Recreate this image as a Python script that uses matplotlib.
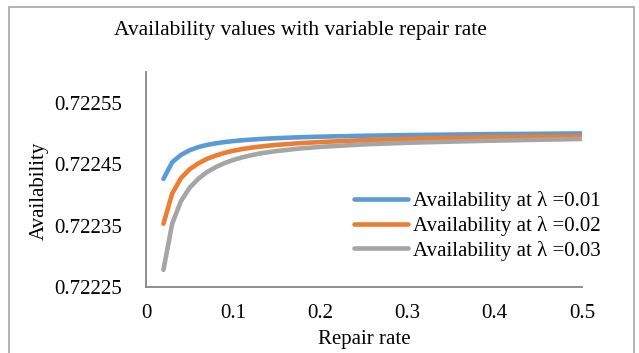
import matplotlib
matplotlib.use("Agg")
import matplotlib.pyplot as plt
from matplotlib.patches import Rectangle

plt.rcParams['font.family'] = ['Liberation Serif', 'DejaVu Serif']

# Repair rate (mu) and availability for three failure rates
repair_rate = [0.02, 0.03, 0.04, 0.05, 0.06, 0.07, 0.08, 0.09, 0.10,
               0.11, 0.12, 0.13, 0.14, 0.15, 0.175, 0.20, 0.25, 0.30,
               0.35, 0.40, 0.45, 0.50]
avail_l001 = [0.7224260, 0.7224530, 0.7224650, 0.7224726, 0.7224777,
              0.7224813, 0.7224839, 0.7224859, 0.7224875, 0.7224888,
              0.7224899, 0.7224908, 0.7224916, 0.7224923, 0.7224937,
              0.7224947, 0.7224962, 0.7224973, 0.7224981, 0.7224989,
              0.7224994, 0.7225000]
avail_l002 = [0.7223530, 0.7224020, 0.7224270, 0.7224416, 0.7224513,
              0.7224586, 0.7224640, 0.7224683, 0.7224718, 0.7224745,
              0.7224767, 0.7224785, 0.7224800, 0.7224813, 0.7224840,
              0.7224860, 0.7224890, 0.7224912, 0.7224929, 0.7224940,
              0.7224949, 0.7224955]
avail_l003 = [0.7222780, 0.7223530, 0.7223895, 0.7224116, 0.7224263,
              0.7224371, 0.7224452, 0.7224517, 0.7224568, 0.7224609,
              0.7224643, 0.7224672, 0.7224694, 0.7224713, 0.7224753,
              0.7224781, 0.7224822, 0.7224848, 0.7224867, 0.7224883,
              0.7224897, 0.7224910]
series_labels = ['Availability at λ =0.01', 'Availability at λ =0.02',
                 'Availability at λ =0.03']
series_colors = ['#5B9BD5', '#ED7D31', '#A5A5A5']

x_ticks = [0, 0.1, 0.2, 0.3, 0.4, 0.5]
x_ticklabels = ['0', '0.1', '0.2', '0.3', '0.4', '0.5']
y_ticks = [0.72225, 0.72235, 0.72245, 0.72255]
y_ticklabels = ['0.72225', '0.72235', '0.72245', '0.72255']

W, H = 639, 353
fig = plt.figure(figsize=(W / 100, H / 100), dpi=100)

# chart-area border
fig.patches.append(Rectangle((9 / W, -0.05), (634 - 9) / W, 1.05 - 7 / H,
                             transform=fig.transFigure, fill=False,
                             edgecolor='#A6A6A6', linewidth=1.2))

ax = fig.add_axes([146 / W, 1 - 287 / H, (582 - 146) / W, (287 - 72) / H])

for ys, lab, col in zip([avail_l001, avail_l002, avail_l003],
                        series_labels, series_colors):
    ax.plot(repair_rate, ys, color=col, linewidth=3.3, label=lab,
            solid_capstyle='round', solid_joinstyle='round')

ax.set_xlim(0, 0.5)
ax.set_ylim(0.72225, 0.72260)
ax.set_xticks(x_ticks)
ax.set_xticklabels(x_ticklabels)
ax.set_yticks(y_ticks)
ax.set_yticklabels(y_ticklabels)
ax.tick_params(axis='both', length=0, labelsize=15, colors='black')
ax.tick_params(axis='y', pad=17)
ax.tick_params(axis='x', pad=12)

for side in ['top', 'right']:
    ax.spines[side].set_visible(False)
for side in ['left', 'bottom']:
    ax.spines[side].set_color('#868686')
    ax.spines[side].set_linewidth(1.3)

ax.set_xlabel('Repair rate', fontsize=15, labelpad=5)
fig.text(39 / W, 1 - 191 / H, 'Availability', rotation=90,
         ha='center', va='center', fontsize=15)

fig.text(300 / W, 1 - 31 / H, 'Availability values with variable repair rate',
         ha='center', va='center', fontsize=15.5)

ax.legend(loc='center left', bbox_to_anchor=(354 / W, 1 - 226 / H),
          bbox_transform=fig.transFigure, frameon=False, fontsize=15,
          handlelength=2.6, handletextpad=0.25, labelspacing=0.22,
          borderpad=0, borderaxespad=0)

fig.savefig('out.png', dpi=100)
